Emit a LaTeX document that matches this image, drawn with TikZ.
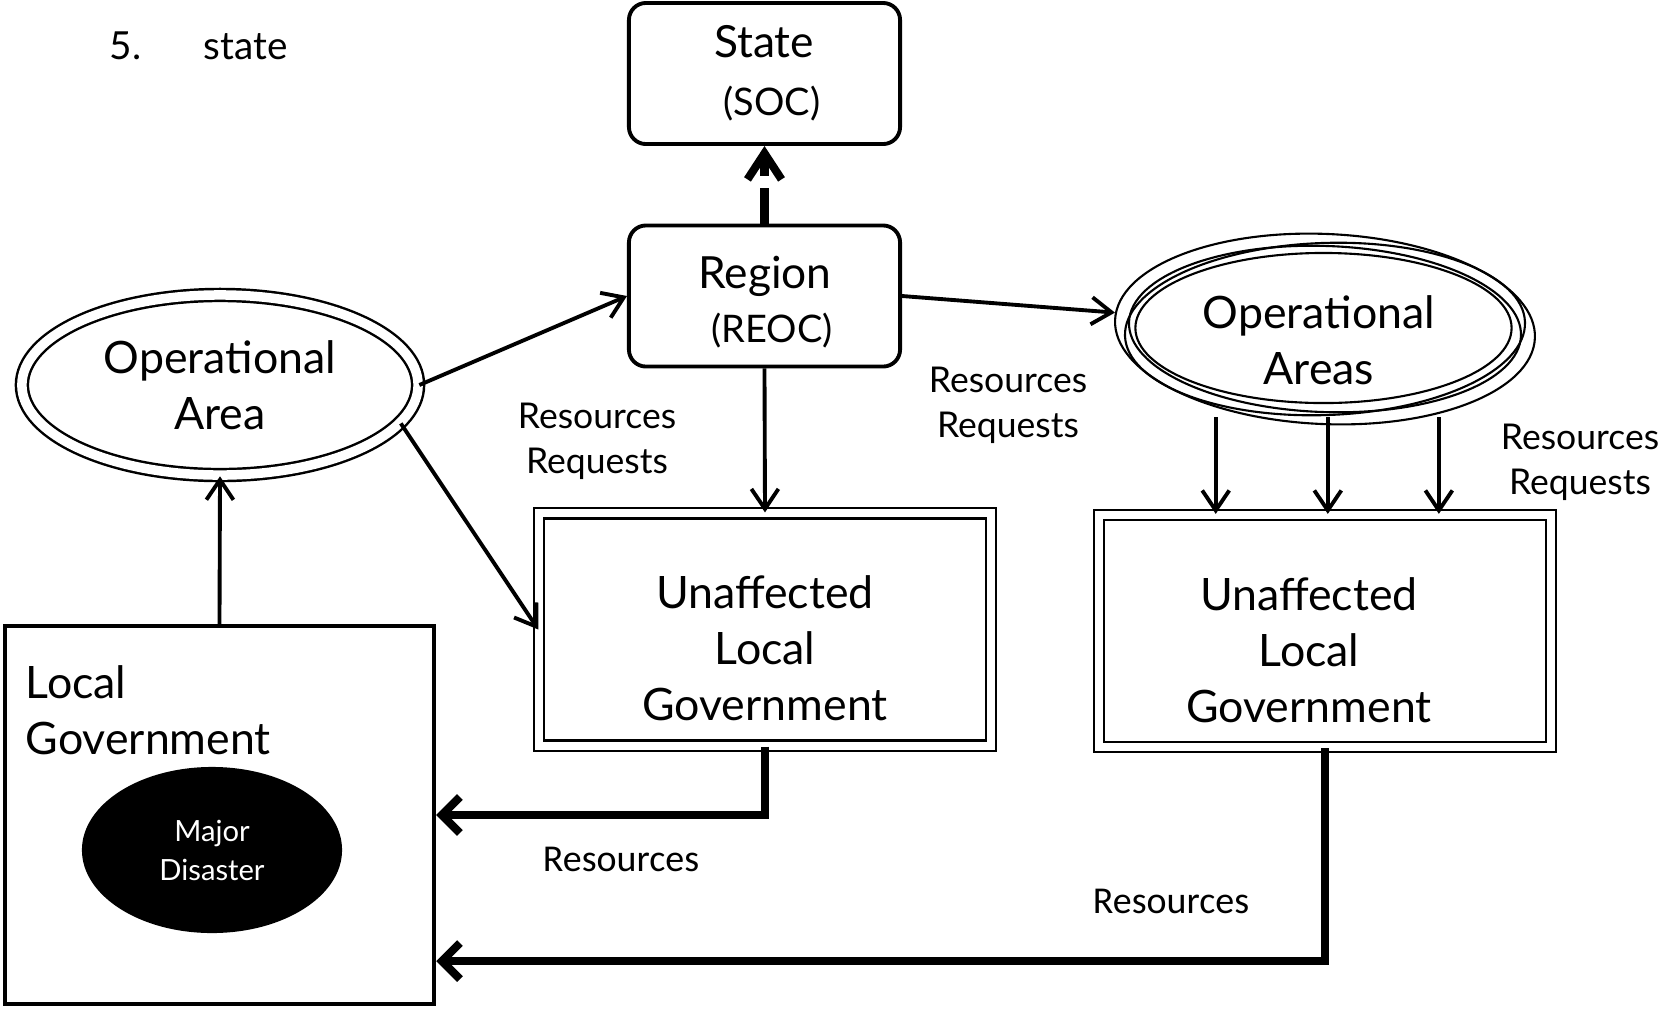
\documentclass[tikz,border=0pt]{standalone}
\usepackage{fontspec}
\setmainfont{Lato}
\newfontfamily\calib{Carlito}
\usetikzlibrary{arrows.meta,shapes.geometric}

\begin{document}
\begin{tikzpicture}[x=0.01cm,y=-0.01cm,
  flecha/.style={line width=1.1pt,-{Straight Barb[length=2mm,width=2.7mm]}},
  flechagruesa/.style={line width=2.3pt,-{Straight Barb[length=1.8mm,width=3.6mm]}},
  caja/.style={draw,rounded corners=1.7mm,line width=1.1pt,minimum width=2.71cm,
    minimum height=1.41cm,inner sep=0pt},
  cajadoble/.style={draw,line width=0.6pt,double,double distance=0.8mm,
    minimum width=4.51cm,minimum height=2.32cm,inner sep=0pt},
  elipsedoble/.style={ellipse,draw,line width=0.7pt,double,double distance=0.95mm,
    minimum width=3.96cm,minimum height=1.80cm,inner sep=0pt,align=center,font=\grande},
  borde/.style={line width=0.6pt},
  txtgrande/.style={inner sep=0pt,align=center,font=\grande},
  txtcaja/.style={inner sep=0pt,anchor=base,font=\fontsize{12.6}{15}\selectfont},
  txtsigla/.style={inner sep=0pt,anchor=base,font=\fontsize{10.8}{13}\selectfont},
  txtchico/.style={inner sep=0pt,align=center,font=\fontsize{10.1}{12.8}\selectfont},
  txtcalibri/.style={inner sep=0pt,font=\calib\fontsize{10.8}{12}\selectfont}]
  \def\grande{\fontsize{12.7}{15.9}\selectfont}

  % Ventana
  \useasboundingbox (0,0) rectangle (1662,1008);

  % Numeral
  \node[anchor=base west,inner sep=0pt,font=\fontsize{11}{13}\selectfont] (num) at (109,59) {5.};
  \node[anchor=base west,inner sep=0pt,font=\fontsize{11}{13}\selectfont] (st) at (203,59) {state};

  % Estado y region
  \node[caja] (soc) at (764.5,73.5) {};
  \node[txtcaja] (soct) at (764,57) {State};
  \node[txtsigla] (socs) at (772,115) {(SOC)};
  \node[caja] (reg) at (764.5,296) {};
  \node[txtcaja] (regt) at (765,288) {Region};
  \node[txtsigla] (regs) at (772,342) {(REOC)};

  % Areas operacionales
  \node[elipsedoble] (opa) at (220,385) {Operational\\Area};
  \node[ellipse,borde,draw,minimum width=4.2cm,minimum height=1.9cm,
    inner sep=0pt,rotate=-2.5] (opas) at (1325,329) {};
  \draw[borde] (opas.center) ellipse [x radius=2.0cm,y radius=0.86cm,rotate=2];
  \draw[borde] (opas.center) ellipse [x radius=1.96cm,y radius=0.83cm,rotate=-2];
  \draw[borde] (1323.5,328) ellipse [x radius=1.88cm,y radius=0.75cm];
  \node[txtgrande] (opastxt) at (1319,340) {Operational\\Areas};

  % Gobiernos locales no afectados
  \node[cajadoble] (ulg1) at (765,629.5) {};
  \node[txtgrande] (ulg1txt) at (765,648) {Unaffected\\Local\\Government};
  \node[cajadoble] (ulg2) at (1325,631) {};
  \node[txtgrande] (ulg2txt) at (1309,650) {Unaffected\\Local\\Government};

  % Gobierno local con el desastre
  \node[draw,line width=1.3pt,minimum width=4.285cm,minimum height=3.775cm,inner sep=0pt] (lg) at (219.5,815) {};
  \node[txtgrande,align=left,anchor=base west] (lgtxt) at (25,754) {Local\\Government};
  \node[ellipse,fill=black,minimum width=2.6cm,minimum height=1.66cm,inner sep=0pt,
    text=white,align=center,font=\fontsize{8.3}{11.1}\selectfont] (dis) at (212,850) {Major\\Disaster};

  % Flechas
  \draw[flechagruesa,dash pattern=on 3.6mm off 1.2mm,-{Straight Barb[length=2.6mm,width=3.4mm]}] (reg.north) -- (soc.south);
  \draw[flecha] (lg.north) -- (opa.south);
  \draw[flecha] (opa.east) -- (reg.west);
  \draw[flecha] (opa.-12) -- (ulg1.west);
  \draw[flecha] (reg.south) -- (ulg1.north);
  \draw[flecha] (reg.east) -- (opas);
  \foreach \dx in {-1.05,0.07,1.18}{
    \draw[flecha] ([xshift=\dx cm,yshift=0.08cm]opas.south) -- ([xshift=\dx cm]opas.south |- ulg2.north);
  }
  \draw[flechagruesa] (ulg1.south) |- (lg.east);
  \draw[flechagruesa] (ulg2.south) |- ([yshift=-1.46cm]lg.east);

  % Etiquetas
  \node[txtchico] (rr1) at (597,441) {Resources\\Requests};
  \node[txtchico] (rr2) at (1008,405) {Resources\\Requests};
  \node[txtchico] (rr3) at (1580,462) {Resources\\Requests};
  \node[txtcalibri] (res1) at (621,859) {Resources};
  \node[txtcalibri] (res2) at (1171,901) {Resources};
\end{tikzpicture}
\end{document}
